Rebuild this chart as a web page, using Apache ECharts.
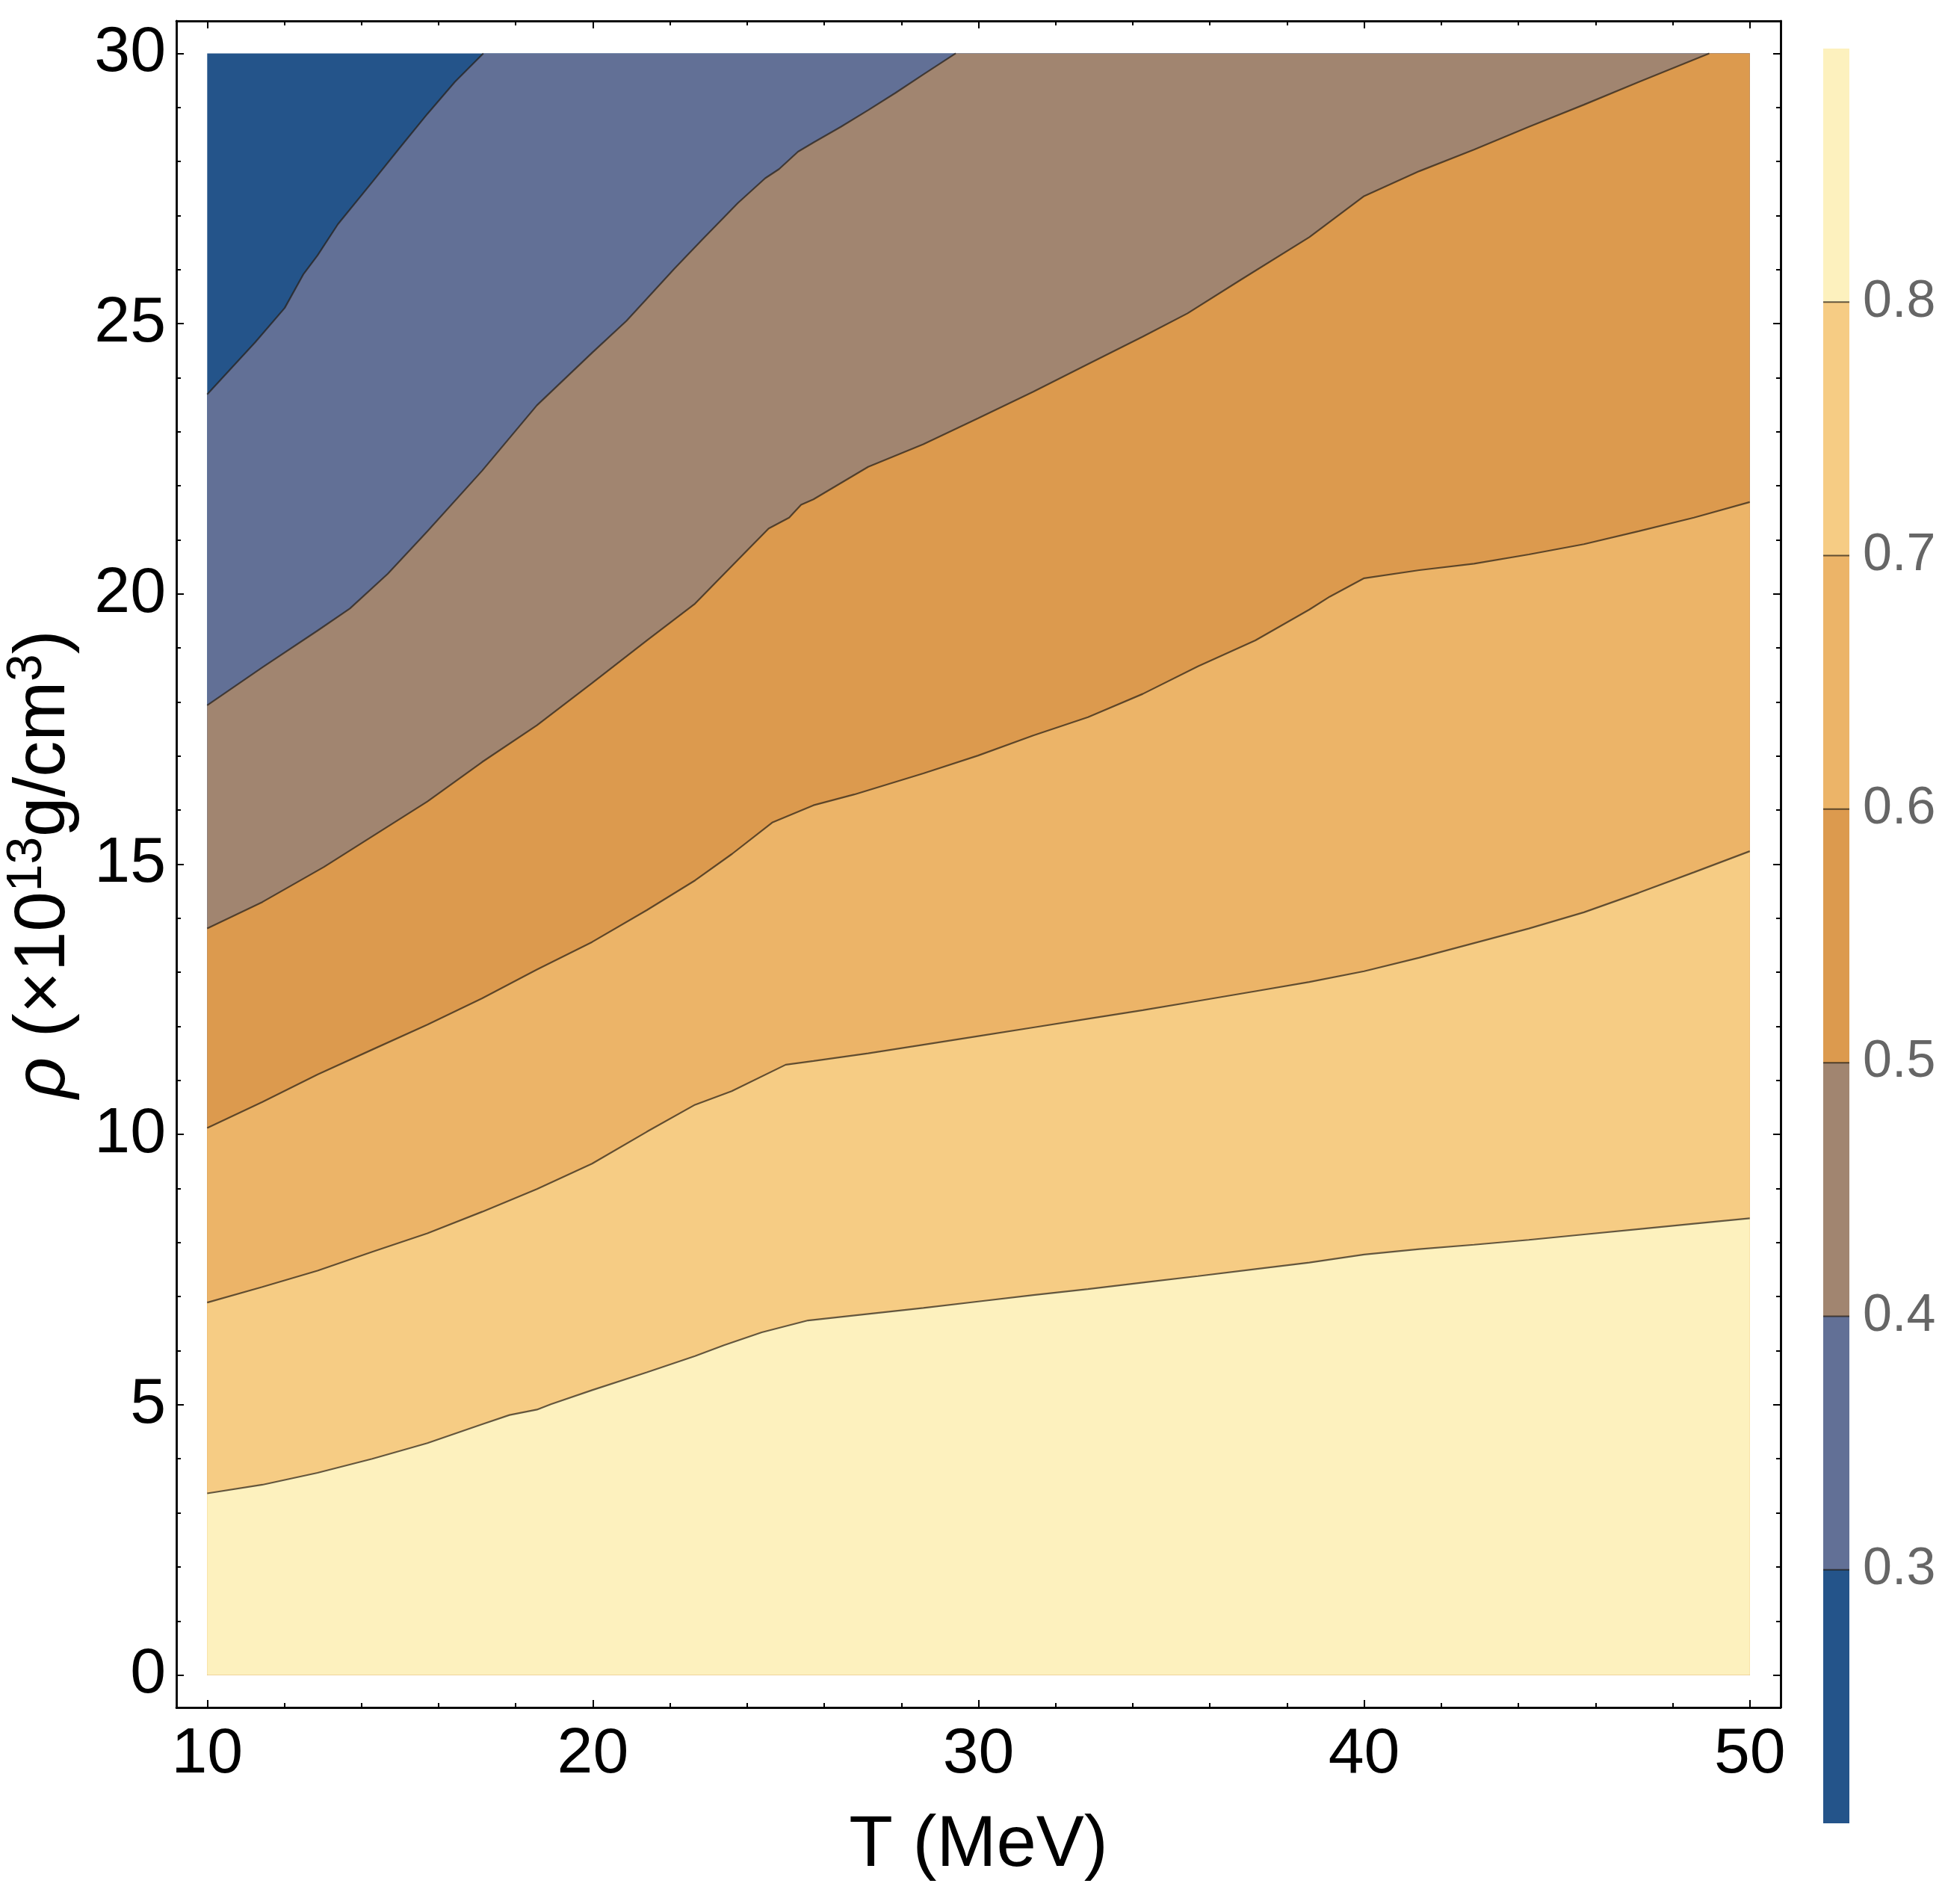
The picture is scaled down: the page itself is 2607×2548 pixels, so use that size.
<!DOCTYPE html>
<html>
<head>
<meta charset="utf-8">
<script src="https://cdn.jsdelivr.net/npm/echarts@6/dist/echarts.min.js"></script>
<style>
  html, body { margin: 0; padding: 0; background: #fff; }
  #main { width: 2607px; height: 2548px; }
</style>
</head>
<body>
<div id="main"></div>
<script>
// contour lines, [T (MeV), rho (1e13 g/cm3)]
const contour03 = [[10, 23.69], [11.25, 24.66], [12.01, 25.29], [12.5, 25.92], [12.86, 26.26], [13.39, 26.84],
  [14.28, 27.62], [14.99, 28.25], [15.71, 28.88], [16.42, 29.47], [17.16, 30]];
const contour04 = [[10, 17.94], [11.43, 18.64], [12.86, 19.32], [13.7, 19.73], [14.68, 20.37], [15.71, 21.16],
  [17.13, 22.28], [18.55, 23.49], [19.98, 24.46], [20.87, 25.05], [21.4, 25.46], [22.12, 26.02], [22.83, 26.55],
  [23.76, 27.23], [24.47, 27.69], [24.83, 27.86], [25.32, 28.18], [25.72, 28.35], [26.43, 28.64], [27.14, 28.95],
  [27.85, 29.27], [28.57, 29.61], [29.41, 30]];
const contour05 = [[10, 13.81], [11.43, 14.3], [13.03, 14.95], [15.71, 16.16], [17.13, 16.89], [18.55, 17.57],
  [19.98, 18.35], [21.4, 19.14], [22.65, 19.82], [23.76, 20.63], [24.56, 21.21], [25.09, 21.41], [25.4, 21.65],
  [25.72, 21.75], [27.14, 22.35], [28.57, 22.77], [29.99, 23.25], [31.42, 23.74], [32.84, 24.25], [34.26, 24.76],
  [35.42, 25.19], [36.8, 25.81], [38.58, 26.6], [40, 27.36], [41.43, 27.82], [42.85, 28.22], [44.27, 28.64],
  [45.7, 29.05], [47.12, 29.47], [48.95, 30]];
const contour06 = [[10, 10.12], [11.43, 10.6], [12.86, 11.11], [14.28, 11.57], [15.71, 12.03], [17.13, 12.52],
  [18.55, 13.05], [19.98, 13.56], [21.4, 14.15], [22.65, 14.7], [23.61, 15.19], [24.65, 15.77], [25.72, 16.09],
  [26.78, 16.29], [28.57, 16.68], [29.99, 17.01], [31.42, 17.38], [32.84, 17.72], [34.26, 18.15], [35.69, 18.66],
  [37.18, 19.14], [38.58, 19.71], [39.11, 19.95], [40, 20.29], [41.43, 20.44], [42.85, 20.56], [44.27, 20.73],
  [45.7, 20.92], [47.12, 21.16], [48.55, 21.41], [50, 21.7]];
const contour07 = [[10, 6.89], [11.43, 7.18], [12.86, 7.48], [14.28, 7.83], [15.71, 8.17], [17.13, 8.57],
  [18.55, 8.99], [19.98, 9.46], [21.4, 10.05], [22.65, 10.55], [23.6, 10.8], [25, 11.29], [25.72, 11.36],
  [27.14, 11.5], [28.57, 11.66], [29.99, 11.82], [31.42, 11.98], [32.84, 12.14], [34.26, 12.3], [35.69, 12.47],
  [37.18, 12.65], [38.58, 12.82], [40, 13.02], [41.43, 13.27], [42.85, 13.54], [44.27, 13.81], [45.7, 14.11],
  [47.12, 14.47], [48.55, 14.85], [50, 15.24]];
const contour08 = [[10, 3.36], [11.43, 3.52], [12.86, 3.74], [14.28, 4.0], [15.71, 4.29], [17.13, 4.64],
  [17.84, 4.81], [18.55, 4.91], [18.91, 5.01], [19.98, 5.27], [21.4, 5.6], [22.65, 5.9], [23.4, 6.1],
  [24.38, 6.34], [25.58, 6.56], [27.14, 6.68], [28.57, 6.79], [29.99, 6.91], [31.42, 7.03], [32.84, 7.14],
  [34.26, 7.26], [35.69, 7.38], [37.18, 7.51], [38.58, 7.63], [40, 7.78], [41.43, 7.88], [42.85, 7.96],
  [44.27, 8.05], [45.7, 8.15], [47.12, 8.25], [48.55, 8.35], [50, 8.45]];

const contours = [contour03, contour04, contour05, contour06, contour07, contour08];

// colour bands from 0.2-0.3 up to 0.8-0.9
const bandColors = ["#24548a", "#627096", "#a18570", "#dc9a4e", "#ecb468", "#f6cc84", "#fdf1be"];
const barLevels = [0.3, 0.4, 0.5, 0.6, 0.7, 0.8];
const barTop = 0.9;

const xMajor = [10, 20, 30, 40, 50];
const xMinor = [12, 14, 16, 18, 22, 24, 26, 28, 32, 34, 36, 38, 42, 44, 46, 48];
const yMajor = [0, 5, 10, 15, 20, 25, 30];
const yMinor = [1, 2, 3, 4, 6, 7, 8, 9, 11, 12, 13, 14, 16, 17, 18, 19, 21, 22, 23, 24, 26, 27, 28, 29];

const FONT = "'Liberation Sans', Arial, sans-serif";
const LINE = "rgba(35, 28, 20, 0.7)";

var myChart = echarts.init(document.getElementById("main"), null, { renderer: "canvas" });

// one axis of the frame (ticks only, or ticks + labels)
function frameAxis(dim, position, ticks, len, withLabels) {
  var isX = dim === "x";
  return {
    type: "value",
    gridIndex: 0,
    position: position,
    min: isX ? 9.2 : -0.6,
    max: isX ? 50.8 : 30.6,
    axisLine: { show: true, onZero: false, lineStyle: { color: "#000", width: 2.5 } },
    axisTick: { show: true, inside: true, length: len, customValues: ticks, lineStyle: { color: "#000", width: 2 } },
    axisLabel: withLabels
      ? { show: true, customValues: ticks, fontSize: 86, fontFamily: FONT, color: "#000", margin: isX ? 20 : 14 }
      : { show: false },
    splitLine: { show: false },
  };
}

var xAxes = [
  frameAxis("x", "bottom", xMajor, 10, true),
  frameAxis("x", "bottom", xMinor, 6, false),
  frameAxis("x", "top", xMajor, 10, false),
  frameAxis("x", "top", xMinor, 6, false),
  { type: "value", gridIndex: 1, min: 0, max: 1, show: false },
];
xAxes[0].name = "T (MeV)";
xAxes[0].nameLocation = "middle";
xAxes[0].nameGap = 138;
xAxes[0].nameTextStyle = { fontSize: 96, fontFamily: FONT, color: "#000" };

var yAxes = [
  frameAxis("y", "left", yMajor, 10, true),
  frameAxis("y", "left", yMinor, 6, false),
  frameAxis("y", "right", yMajor, 10, false),
  frameAxis("y", "right", yMinor, 6, false),
  {
    type: "value",
    gridIndex: 1,
    position: "right",
    min: 0.2,
    max: 0.9,
    axisLine: { show: false },
    axisTick: { show: true, length: 12, customValues: barLevels, lineStyle: { color: "#c8c8c8", width: 1.5 } },
    axisLabel: {
      show: true,
      customValues: barLevels,
      margin: 18,
      fontSize: 70,
      fontFamily: FONT,
      color: "#666",
      formatter: function (v) { return v.toFixed(1); },
    },
    splitLine: { show: false },
  },
];
yAxes[0].name = "{it|ρ} (×10{sup|13}g/cm{sup|3})";
yAxes[0].nameLocation = "middle";
yAxes[0].nameRotate = 90;
yAxes[0].nameGap = 112;
yAxes[0].nameTextStyle = {
  fontSize: 96,
  fontFamily: FONT,
  color: "#000",
  lineHeight: 112,
  rich: {
    it: { fontSize: 96, fontFamily: FONT, fontStyle: "italic", color: "#000" },
    sup: { fontSize: 66, fontFamily: FONT, color: "#000", verticalAlign: "top", lineHeight: 66 },
  },
};

var series = [];

// filled regions: whole data area in the darkest band, then area under each contour
function fillSeries(points, color) {
  var pts = points.slice();
  if (pts[pts.length - 1][0] < 50) pts.push([50, 30]);
  return {
    type: "line",
    data: pts,
    symbol: "none",
    silent: true,
    lineStyle: { width: 0, opacity: 0 },
    areaStyle: { color: color, opacity: 1, origin: 0 },
  };
}
series.push(fillSeries([[10, 30]], bandColors[0]));
contours.forEach(function (c, i) {
  series.push(fillSeries(c, bandColors[i + 1]));
});
// contour lines on top
contours.forEach(function (c) {
  series.push({
    type: "line",
    data: c,
    symbol: "none",
    silent: true,
    lineStyle: { color: LINE, width: 2.2 },
  });
});

// colour bar: area under each band top, drawn from the top band down
var barBounds = barLevels.concat([barTop]);
for (var i = barBounds.length - 1; i >= 0; i--) {
  var v = barBounds[i];
  series.push({
    type: "line",
    xAxisIndex: 4,
    yAxisIndex: 4,
    data: [[0, v], [1, v]],
    symbol: "none",
    silent: true,
    lineStyle: { width: v === barTop ? 0 : 2, color: LINE, opacity: v === barTop ? 0 : 1 },
    areaStyle: { color: bandColors[i], opacity: 1, origin: "start" },
  });
}

var option = {
  animation: false,
  backgroundColor: "#fff",
  grid: [
    { left: 236, top: 28, width: 2147, height: 2257, outerBoundsMode: "none", containLabel: false },
    { left: 2440, top: 65, width: 35, height: 2375, outerBoundsMode: "none", containLabel: false },
  ],
  xAxis: xAxes,
  yAxis: yAxes,
  series: series,
};

myChart.setOption(option);
</script>
</body>
</html>
